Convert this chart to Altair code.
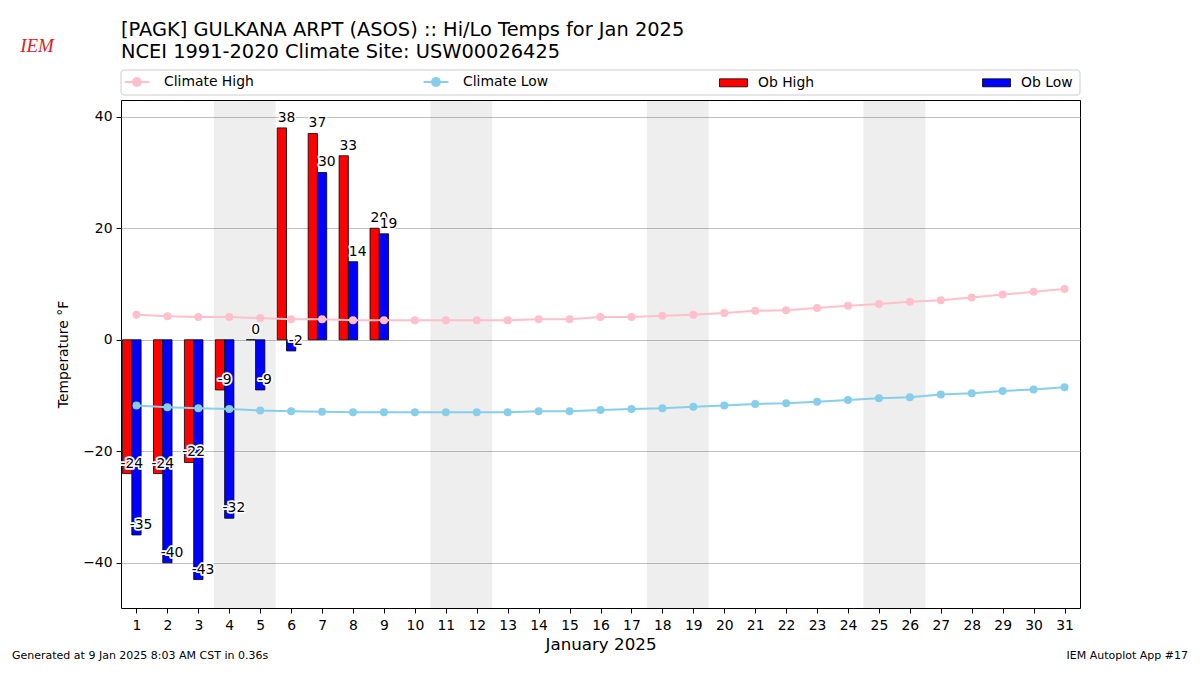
import altair as alt
import pandas as pd

# ---------------- data ----------------
days = list(range(1, 32))
climate_high = [4.5, 4.2, 4.1, 4.1, 3.9, 3.7, 3.7, 3.5, 3.5, 3.5, 3.5, 3.5, 3.5, 3.7, 3.7, 4.1,
                4.1, 4.3, 4.5, 4.8, 5.2, 5.3, 5.7, 6.1, 6.4, 6.8, 7.1, 7.6, 8.1, 8.6, 9.1]
climate_low = [-11.8, -12.1, -12.3, -12.4, -12.7, -12.8, -12.9, -13.0, -13.0, -13.0, -13.0,
               -13.0, -13.0, -12.8, -12.8, -12.6, -12.4, -12.3, -12.0, -11.8, -11.5, -11.4,
               -11.1, -10.8, -10.5, -10.3, -9.8, -9.6, -9.2, -8.9, -8.5]
ob_days = [1, 2, 3, 4, 5, 6, 7, 8, 9]
ob_high = [-24, -24, -22, -9, 0, 38, 37, 33, 20]
ob_low = [-35, -40, -43, -32, -9, -2, 30, 14, 19]
weekend_starts = [4, 11, 18, 25]
y_ticks = [-40, -20, 0, 20, 40]

title_lines = ["[PAGK] GULKANA ARPT (ASOS) :: Hi/Lo Temps for Jan 2025",
               "NCEI 1991-2020 Climate Site: USW00026425"]
x_title = "January 2025"
y_title = "Temperature °F"
footer_left = "Generated at 9 Jan 2025 8:03 AM CST in 0.36s"
footer_right = "IEM Autoplot App #17"
clim_names = ["Climate High", "Climate Low"]
ob_names = ["Ob High", "Ob Low"]

# ---------------- tables ----------------
clim_df = pd.DataFrame({
    "day": days * 2,
    "value": climate_high + climate_low,
    "series": [clim_names[0]] * len(days) + [clim_names[1]] * len(days),
})
ob_df = pd.DataFrame({
    "day": ob_days * 2,
    "value": ob_high + ob_low,
    "series": [ob_names[0]] * len(ob_days) + [ob_names[1]] * len(ob_days),
})
ob_df["label"] = ob_df["value"].astype(int).astype(str)
wk_df = pd.DataFrame({"start": weekend_starts})

W, H = 959, 508
FONT = "DejaVu Sans"

xscale = alt.Scale(domain=[0.5, 31.5], nice=False, zero=False)
yscale = alt.Scale(domain=[-48.1, 43.0], nice=False, zero=False)
xaxis = alt.Axis(values=days, format="d", labelAngle=0, grid=False, title=x_title,
                 tickSize=5, tickColor="black", tickWidth=1, labelPadding=5,
                 labelFontSize=13.9, titleFontSize=16.7, titlePadding=5, domain=False,
                 labelColor="black", titleColor="black", titleFontWeight="normal",
                 labelFont=FONT, titleFont=FONT)
yaxis = alt.Axis(values=y_ticks, format="d", grid=True, gridColor="#b0b0b0", gridWidth=0.8,
                 title=y_title, tickSize=5, tickColor="black", tickWidth=1, labelPadding=4,
                 labelFontSize=13.9, titleFontSize=13.9, titlePadding=12, domain=False,
                 labelColor="black", titleColor="black", titleFontWeight="normal",
                 labelFont=FONT, titleFont=FONT)

# weekend shading
shade = alt.Chart(wk_df).mark_rect(fill="black", opacity=0.067).transform_calculate(
    x0="datum.start - 0.5", x1="datum.start + 1.5"
).encode(
    x=alt.X("x0:Q", scale=xscale, axis=xaxis),
    x2="x1:Q",
    y=alt.value(0),
    y2=alt.value("height"),
)

bar_legend = alt.Legend(
    orient="none", legendX=604, legendY=-26, direction="horizontal", columns=2,
    columnPadding=165, title=None, symbolType="M-1.75,-0.5H1.75V0.5H-1.75Z",
    symbolSize=256, symbolStrokeColor="black", symbolStrokeWidth=0.8, labelOffset=16,
    labelFontSize=13.9, labelFont=FONT, labelColor="black", padding=0,
)
bars = alt.Chart(ob_df).mark_bar(stroke="black", strokeWidth=0.8).transform_calculate(
    x0="datum.series == 'Ob High' ? datum.day - 0.45 : datum.day - 0.15",
    x1="datum.series == 'Ob High' ? datum.day - 0.15 : datum.day + 0.15",
).encode(
    x=alt.X("x0:Q", scale=xscale, axis=xaxis),
    x2="x1:Q",
    y=alt.Y("value:Q", scale=yscale, axis=yaxis),
    y2=alt.datum(0),
    color=alt.Color("series:N", scale=alt.Scale(domain=ob_names, range=["#ff0000", "#0000ff"]),
                    legend=bar_legend),
)

clim_lines = alt.Chart(clim_df).mark_line(strokeWidth=2).encode(
    x=alt.X("day:Q", scale=xscale, axis=xaxis),
    y=alt.Y("value:Q", scale=yscale, axis=yaxis),
    stroke=alt.Stroke("series:N", scale=alt.Scale(domain=clim_names, range=["#ffc0cb", "#87ceeb"]),
                      legend=None),
    detail="series:N",
)
clim_path = ("M-1.55,-0.12H-0.6V0.12H-1.55Z M0.6,-0.12H1.55V0.12H0.6Z "
             "M0.62,0A0.62,0.62,0,1,1,-0.62,0A0.62,0.62,0,1,1,0.62,0Z")
clim_legend = alt.Legend(
    orient="none", legendX=8, legendY=-26, direction="horizontal", columns=2,
    columnPadding=169, title=None, symbolType=clim_path, symbolSize=256,
    symbolStrokeWidth=0, labelOffset=19, labelFontSize=13.9, labelFont=FONT,
    labelColor="black", padding=0,
)
clim_pts = alt.Chart(clim_df).mark_circle(size=64, opacity=1).encode(
    x=alt.X("day:Q", scale=xscale, axis=xaxis),
    y=alt.Y("value:Q", scale=yscale, axis=yaxis),
    fill=alt.Fill("series:N", scale=alt.Scale(domain=clim_names, range=["#ffc0cb", "#87ceeb"]),
                  legend=clim_legend),
)


def label_layer(name, halo):
    base = alt.Chart(ob_df).transform_filter(
        alt.datum.series == name
    ).transform_calculate(
        lx="datum.series == 'Ob High' ? datum.day - 0.15 : datum.day + 0.15"
    )
    if halo:
        mk = base.mark_text(font=FONT, fontSize=13.9, baseline="bottom", align="center", dy=-3,
                            fill="white", stroke="white", strokeWidth=3.5, strokeJoin="round")
    else:
        mk = base.mark_text(font=FONT, fontSize=13.9, baseline="bottom", align="center", dy=-3,
                            fill="black")
    return mk.encode(
        x=alt.X("lx:Q", scale=xscale, axis=xaxis),
        y=alt.Y("value:Q", scale=yscale, axis=yaxis),
        text="label:N",
    )


labels = [label_layer(ob_names[0], True), label_layer(ob_names[0], False),
          label_layer(ob_names[1], True), label_layer(ob_names[1], False)]

one = pd.DataFrame({"k": [0]})
frame = alt.Chart(one).mark_rect(fill="white", stroke="#cccccc", strokeWidth=1,
                                 cornerRadius=3).encode(
    x=alt.value(0), x2=alt.value(W), y=alt.value(-30), y2=alt.value(-5)
)
foot_l = alt.Chart(pd.DataFrame({"t": [footer_left]})).mark_text(
    font=FONT, fontSize=11, align="left", baseline="alphabetic", color="black"
).encode(x=alt.value(-109), y=alt.value(559), text="t:N")
foot_r = alt.Chart(pd.DataFrame({"t": [footer_right]})).mark_text(
    font=FONT, fontSize=11, align="right", baseline="alphabetic", color="black"
).encode(x=alt.value(1067), y=alt.value(559), text="t:N")
logo = alt.Chart(pd.DataFrame({"t": ["IEM"]})).mark_text(
    font="Liberation Serif", fontSize=19, fontStyle="italic", align="center",
    baseline="middle", color="#d9222a"
).encode(x=alt.value(-84), y=alt.value(-54), text="t:N")

chart = alt.layer(
    shade, bars, clim_lines, clim_pts, *labels, frame, foot_l, foot_r, logo
).properties(
    width=W, height=H,
    autosize=alt.AutoSizeParams(type="none"),
    padding={"left": 113, "top": 92, "right": 110, "bottom": 55},
    title=alt.TitleParams(text=title_lines, anchor="start", frame="group", fontSize=19.4,
                          font=FONT, fontWeight="normal", lineHeight=22, color="black",
                          offset=4, dy=29),
).resolve_scale(
    color="independent", fill="independent", stroke="independent"
).configure(
    font=FONT, background="white"
).configure_view(
    stroke="black", strokeWidth=1
)

chart.save("out.html", embed_options={"renderer": "svg", "actions": False})
